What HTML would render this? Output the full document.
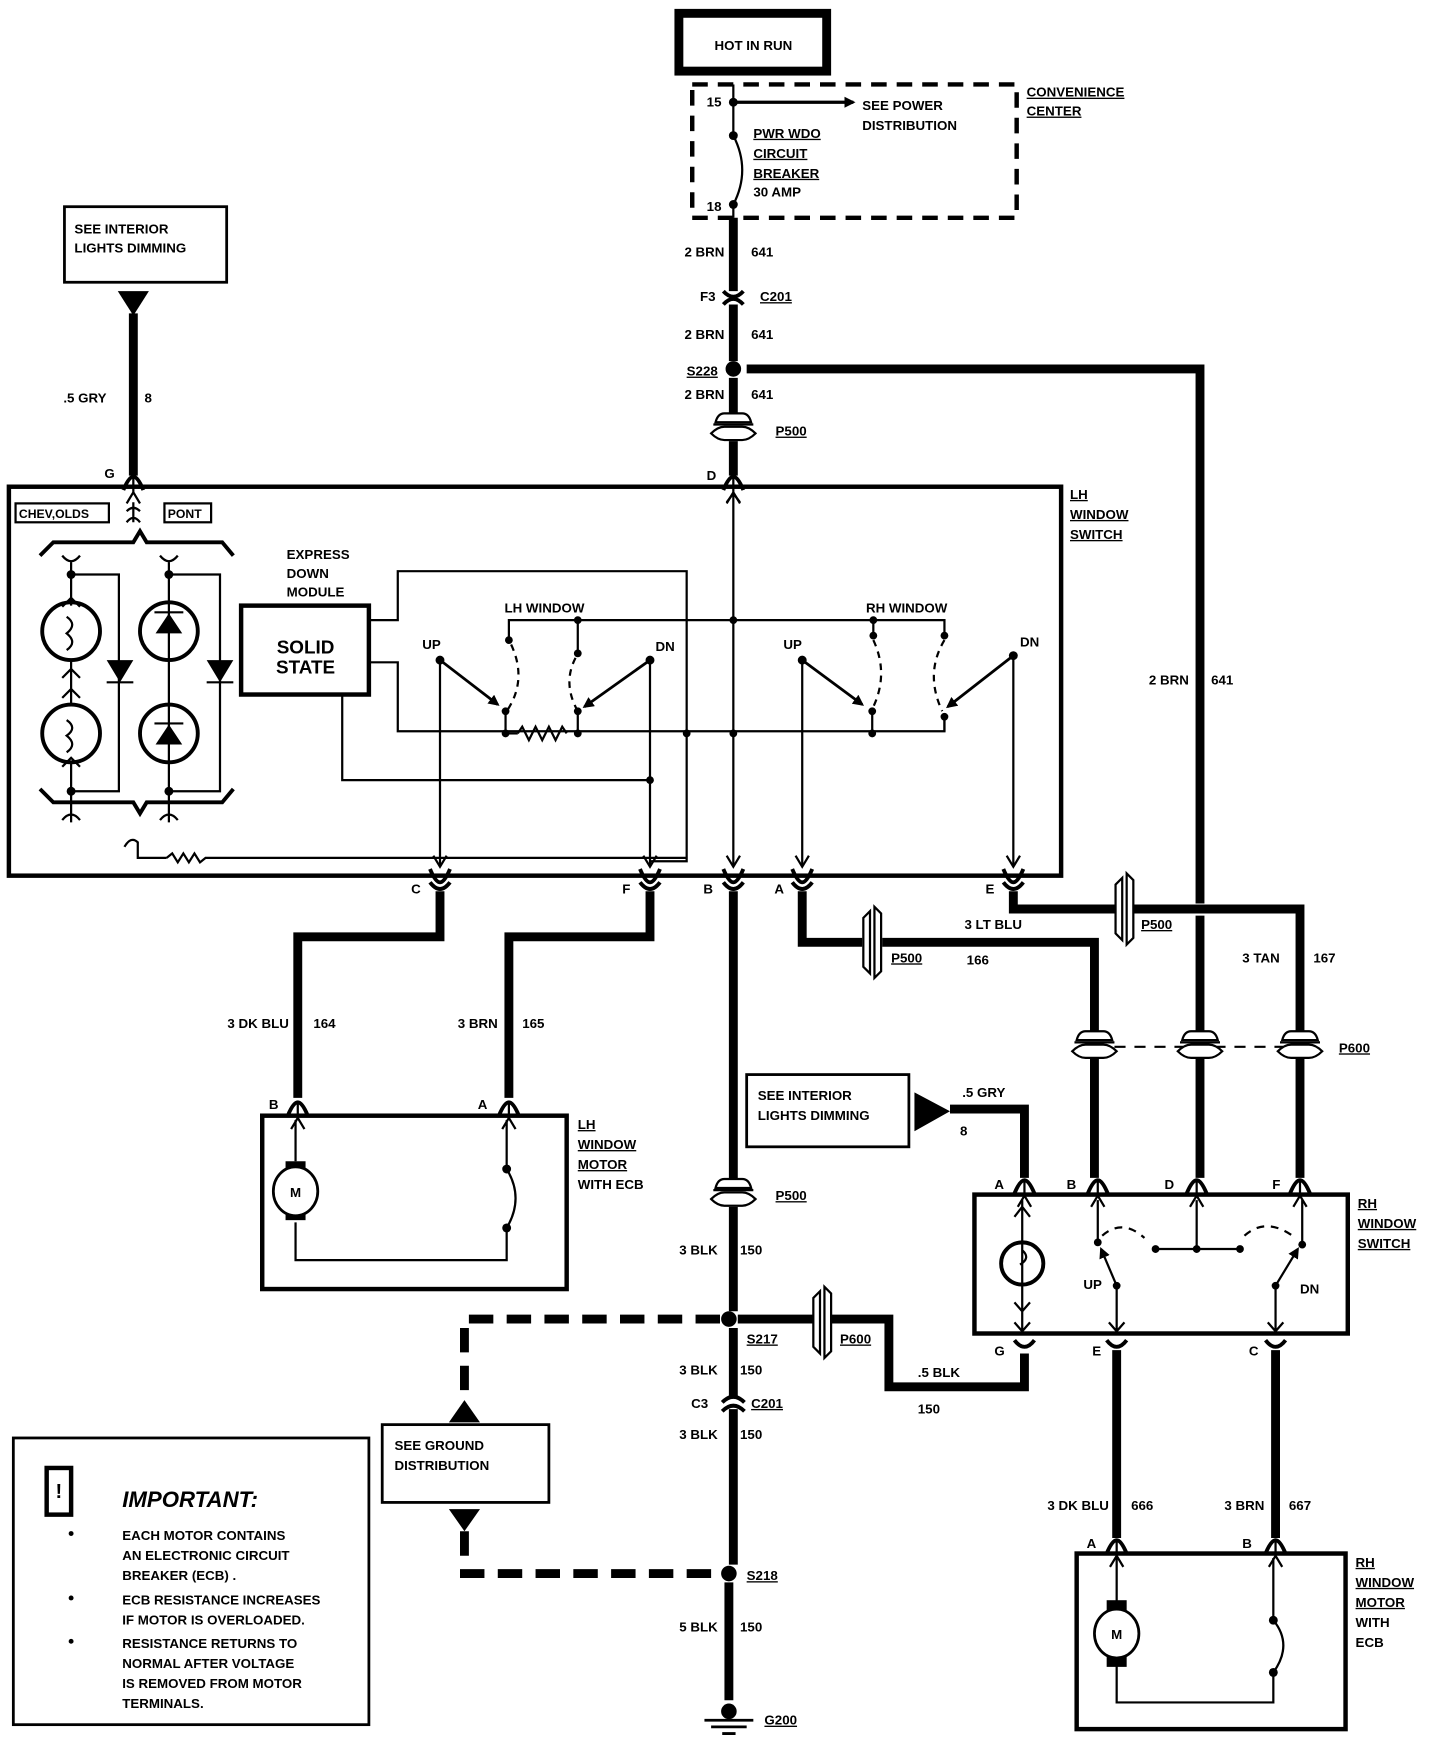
<!DOCTYPE html>
<html><head><meta charset="utf-8"><style>
html,body{margin:0;padding:0;background:#fff;}
svg{display:block;}
text{font-family:"Liberation Sans",sans-serif;font-weight:bold;font-size:12px;fill:#000;}
.u{text-decoration:underline;}
.w{stroke:#000;stroke-width:8;fill:none;}
.t{stroke:#000;stroke-width:2;fill:none;}
.m{stroke:#000;stroke-width:3.5;fill:none;}
.d{stroke:#000;stroke-width:8;fill:none;stroke-dasharray:22 12;}
</style></head><body>
<svg width="1440" height="1738" viewBox="0 0 1296 1564" preserveAspectRatio="none" xmlns="http://www.w3.org/2000/svg">
<defs>
<g id="ct"><path class="m" d="M-9 4 Q-4 -8 0 -8 Q4 -8 9 4"/><path class="t" d="M-6 16 L0 6 L6 16 M0 6 V-8"/></g>
<g id="cb"><path class="m" d="M-9 -4 Q-4 8 0 8 Q4 8 9 -4"/><path class="t" d="M-6 -16 L0 -6 L6 -16"/></g>
<g id="pv"><path d="M-16 -6 Q-14 -14 -8 -14 H8 Q14 -14 16 -6 Z M-20 4 Q-14 -2 -8 -2 H8 Q14 -2 20 4 Q14 10 8 10 H-8 Q-14 10 -20 4 Z" fill="#fff" stroke="#000" stroke-width="2"/><line x1="-18" y1="-4" x2="18" y2="-4" stroke="#000" stroke-width="2"/></g>
<g id="ph"><path d="M-8 -22 L-2 -28 V28 L-8 22 Z M2 -32 L8 -26 V26 L2 32 Z" fill="#fff" stroke="#000" stroke-width="2"/></g>
<marker id="ah" markerWidth="10" markerHeight="10" refX="8" refY="5" orient="auto" markerUnits="userSpaceOnUse"><path d="M0 0 L10 5 L0 10 Z"/></marker>
</defs>

<!-- HOT IN RUN -->
<rect x="611" y="12" width="133" height="52" fill="#fff" stroke="#000" stroke-width="8"/>
<text x="678" y="45" text-anchor="middle">HOT IN RUN</text>
<!-- convenience center -->
<rect x="623" y="76" width="292" height="120" fill="none" stroke="#000" stroke-width="4" stroke-dasharray="14 9"/>
<text x="924" y="87" class="u">CONVENIENCE</text><text x="924" y="104" class="u">CENTER</text>
<line x1="660" y1="76" x2="660" y2="122" class="t"/>
<circle cx="660" cy="92" r="4"/><text x="636" y="96">15</text>
<line x1="660" y1="92" x2="768" y2="92" stroke="#000" stroke-width="3" marker-end="url(#ah)"/>
<text x="776" y="99">SEE  POWER</text><text x="776" y="117">DISTRIBUTION</text>
<circle cx="660" cy="122" r="4"/><circle cx="660" cy="184" r="4"/>
<path d="M660 122 Q676 153 660 184" class="t"/>
<text x="678" y="124" class="u">PWR  WDO</text><text x="678" y="142" class="u">CIRCUIT</text><text x="678" y="160" class="u">BREAKER</text><text x="678" y="177">30  AMP</text>
<text x="636" y="190">18</text>
<!-- main vertical -->
<line x1="660" y1="184" x2="660" y2="196" class="t"/>
<line x1="660" y1="196" x2="660" y2="262" class="w"/>
<path class="m" d="M651 262 Q660 272 669 262 M651 274 Q660 264 669 274"/>
<line x1="660" y1="274" x2="660" y2="325" class="w"/>
<circle cx="660" cy="332" r="7"/>
<line x1="660" y1="340" x2="660" y2="378" class="w"/>
<use href="#pv" x="660" y="386"/>
<line x1="660" y1="397" x2="660" y2="428" class="w"/>
<text x="652" y="231" text-anchor="end">2 BRN</text><text x="676" y="231">641</text>
<text x="630" y="271">F3</text><text x="684" y="271" class="u">C201</text>
<text x="652" y="305" text-anchor="end">2 BRN</text><text x="676" y="305">641</text>
<text x="618" y="338" class="u">S228</text>
<text x="652" y="359" text-anchor="end">2 BRN</text><text x="676" y="359">641</text>
<text x="698" y="392" class="u">P500</text>
<text x="636" y="432">D</text>
<use href="#ct" x="660" y="437"/>
<!-- S228 to right -->
<path d="M672 332 H1080 V813" class="w"/>
<line x1="1080" y1="824" x2="1080" y2="935" class="w"/>
<text x="1070" y="616" text-anchor="end">2 BRN</text><text x="1090" y="616">641</text>

<!-- left see interior -->
<rect x="58" y="186" width="146" height="68" fill="#fff" stroke="#000" stroke-width="2.5"/>
<text x="67" y="210">SEE INTERIOR</text><text x="67" y="227">LIGHTS DIMMING</text>
<path d="M106 262 H134 L120 284 Z"/>
<line x1="120" y1="282" x2="120" y2="428" class="w"/>
<text x="57" y="362">.5  GRY</text><text x="130" y="362">8</text>
<text x="94" y="430">G</text>
<use href="#ct" x="120" y="437"/>

<!-- LH window switch box -->
<rect x="8" y="438" width="947" height="350" fill="none" stroke="#000" stroke-width="4"/>
<text x="963" y="449" class="u">LH</text><text x="963" y="467" class="u">WINDOW</text><text x="963" y="485" class="u">SWITCH</text>
<rect x="14" y="453" width="84" height="17" fill="none" stroke="#000" stroke-width="2"/><text x="17" y="466" style="font-size:11px">CHEV,OLDS</text>
<rect x="148" y="453" width="42" height="17" fill="none" stroke="#000" stroke-width="2"/><text x="151" y="466" style="font-size:11px">PONT</text>
<path class="t" d="M114 470 Q120 462 126 470 M120 452 V470 M114 460 Q120 454 126 460"/>
<path class="m" d="M36 500 L48 488 H120 L126 478 L132 488 H200 L210 500"/>
<path class="m" d="M36 710 L48 722 H120 L126 732 L132 722 H200 L210 710"/>
<!-- lamps -->
<circle cx="64" cy="568" r="26" class="m"/><circle cx="64" cy="660" r="26" class="m"/>
<path class="t" d="M56 500 Q64 510 72 500 M64 505 V545 M56 546 L64 538 L72 546 M64 594 V634 M56 610 L64 602 L72 610 M56 628 L64 620 L72 628 M64 686 V740 M56 690 L64 682 L72 690 M56 738 Q64 728 72 738"/>
<path class="t" d="M60 555 Q70 562 60 570 Q70 578 60 585 M60 648 Q70 655 60 662 Q70 670 60 677"/>
<circle cx="64" cy="517" r="4"/><circle cx="64" cy="712" r="4"/>
<path class="t" d="M64 517 H107 V712 H64"/>
<path d="M96 594 H120 L108 614 Z"/><line x1="96" y1="614" x2="120" y2="614" class="t"/>
<!-- diodes -->
<circle cx="152" cy="568" r="26" class="m"/><circle cx="152" cy="660" r="26" class="m"/>
<path class="t" d="M144 500 Q152 510 160 500 M152 505 V740 M144 738 Q152 728 160 738"/>
<path d="M140 570 H164 L152 552 Z M140 670 H164 L152 652 Z"/>
<line x1="139" y1="551" x2="165" y2="551" class="t"/><line x1="139" y1="651" x2="165" y2="651" class="t"/>
<circle cx="152" cy="517" r="4"/><circle cx="152" cy="712" r="4"/>
<path class="t" d="M152 517 H198 V712 H152"/>
<path d="M186 594 H210 L198 614 Z"/><line x1="186" y1="614" x2="210" y2="614" class="t"/>
<path class="t" d="M112 762 Q118 752 124 758 V772 H150 M150 772 L155 768 L160 776 L165 768 L170 776 L175 768 L180 776 L185 772 H618"/>
<!-- express down -->
<text x="258" y="503">EXPRESS</text><text x="258" y="520">DOWN</text><text x="258" y="537">MODULE</text>
<rect x="217" y="545" width="115" height="80" fill="#fff" stroke="#000" stroke-width="4"/>
<text x="275" y="588" text-anchor="middle" style="font-size:17px">SOLID</text><text x="275" y="606" text-anchor="middle" style="font-size:17px">STATE</text>
<path class="t" d="M333 558 H358 V514 H618 V775 H585"/>
<path class="t" d="M333 596 H358 V658 H850 V645"/>
<path class="t" d="M308 626 V702 H585"/>
<circle cx="585" cy="702" r="3.5"/><circle cx="618" cy="660" r="3.5"/><circle cx="660" cy="660" r="3.5"/>
<text x="490" y="551" text-anchor="middle">LH WINDOW</text>
<text x="816" y="551" text-anchor="middle">RH WINDOW</text>
<path class="t" d="M458 575 V558 H850 V572"/>
<circle cx="520" cy="558" r="3.5"/><circle cx="660" cy="558" r="3.5"/><circle cx="786" cy="558" r="3.5"/>
<line x1="520" y1="558" x2="520" y2="588" class="t"/>
<circle cx="458" cy="576" r="3.5"/><circle cx="520" cy="588" r="3.5"/><circle cx="786" cy="572" r="3.5"/><circle cx="850" cy="572" r="3.5"/>
<path class="t" d="M786 558 V572"/>
<path class="t" stroke-dasharray="6 5" d="M460 580 Q475 612 456 640 M518 592 Q506 615 520 640 M786 576 Q800 606 786 636 M850 576 Q832 606 848 640"/>
<circle cx="455" cy="640" r="3.5"/><circle cx="455" cy="660" r="3.5"/><circle cx="520" cy="640" r="3.5"/><circle cx="520" cy="660" r="3.5"/>
<circle cx="785" cy="640" r="3.5"/><circle cx="785" cy="660" r="3.5"/><circle cx="850" cy="645" r="3.5"/>
<path class="t" d="M455 640 V660 M520 640 V660 M785 640 V660 M850 645 V658"/>
<path class="t" d="M466 660 L470 654 L476 666 L482 654 L488 666 L494 654 L500 666 L506 654 L510 660"/>
<line x1="455" y1="660" x2="466" y2="660" class="t" stroke="#fff"/>
<text x="380" y="584">UP</text><text x="590" y="586">DN</text><text x="705" y="584">UP</text><text x="918" y="582">DN</text>
<circle cx="396" cy="594" r="4"/><circle cx="585" cy="594" r="4"/><circle cx="722" cy="594" r="4"/><circle cx="912" cy="590" r="4"/>
<path d="M396 594 L448 634" stroke="#000" stroke-width="2.5" marker-end="url(#ah)"/>
<path d="M585 594 L526 636" stroke="#000" stroke-width="2.5" marker-end="url(#ah)"/>
<path d="M722 594 L776 634" stroke="#000" stroke-width="2.5" marker-end="url(#ah)"/>
<path d="M912 590 L853 636" stroke="#000" stroke-width="2.5" marker-end="url(#ah)"/>
<path class="t" d="M396 594 V780 M585 594 V780 M722 594 V780 M912 590 V780 M660 444 V780"/>
<path class="t" d="M654 452 L660 444 L666 452"/>
<!-- bottom connectors -->
<use href="#cb" x="396" y="786"/><use href="#cb" x="585" y="786"/><use href="#cb" x="660" y="786"/><use href="#cb" x="722" y="786"/><use href="#cb" x="912" y="786"/>
<path class="m" d="M387 794 Q396 806 405 794 M576 794 Q585 806 594 794 M651 794 Q660 806 669 794 M713 794 Q722 806 731 794 M903 794 Q912 806 921 794"/>
<text x="370" y="804">C</text><text x="560" y="804">F</text><text x="633" y="804">B</text><text x="697" y="804">A</text><text x="887" y="804">E</text>

<!-- wires from LH switch -->
<path class="w" d="M396 802 V843 H268 V988"/>
<path class="w" d="M585 802 V843 H458 V988"/>
<text x="260" y="925" text-anchor="end">3 DK BLU</text><text x="282" y="925">164</text>
<text x="448" y="925" text-anchor="end">3 BRN</text><text x="470" y="925">165</text>
<path class="w" d="M722 802 V848 H776 M794 848 H985 V932"/>
<use href="#ph" x="785" y="848"/>
<text x="868" y="836">3 LT BLU</text><text x="802" y="866" class="u">P500</text><text x="870" y="868">166</text>
<path class="w" d="M912 802 V818 H1004 M1020 818 H1170 V932"/>
<use href="#ph" x="1012" y="818"/>
<text x="1027" y="836" class="u">P500</text><text x="1118" y="866">3 TAN</text><text x="1182" y="866">167</text>
<!-- P600 row -->
<line x1="985" y1="942" x2="1170" y2="942" stroke="#000" stroke-width="2" stroke-dasharray="10 8"/>
<use href="#pv" x="985" y="942"/><use href="#pv" x="1080" y="942"/><use href="#pv" x="1170" y="942"/>
<text x="1205" y="947" class="u">P600</text>
<path class="w" d="M985 953 V1060 M1080 953 V1060 M1170 953 V1060"/>

<!-- LH motor -->
<use href="#ct" x="268" y="1000"/><use href="#ct" x="458" y="1000"/>
<text x="242" y="998">B</text><text x="430" y="998">A</text>
<rect x="236" y="1004" width="274" height="156" fill="none" stroke="#000" stroke-width="4"/>
<text x="520" y="1016" class="u">LH</text><text x="520" y="1034" class="u">WINDOW</text><text x="520" y="1052" class="u">MOTOR</text><text x="520" y="1070">WITH  ECB</text>
<path class="t" d="M266 1008 V1045 M266 1100 V1134 H456 V1105 M456 1008 V1052"/>
<rect x="257" y="1045" width="18" height="10"/><rect x="257" y="1088" width="18" height="10"/>
<ellipse cx="266" cy="1072" rx="20" ry="22" fill="#fff" stroke="#000" stroke-width="2.5"/>
<text x="266" y="1077" text-anchor="middle">M</text>
<circle cx="456" cy="1052" r="4"/><circle cx="456" cy="1105" r="4"/>
<path class="t" d="M456 1052 Q472 1078 456 1105"/>

<!-- center ground wire -->
<line x1="660" y1="802" x2="660" y2="1066" class="w"/>
<use href="#pv" x="660" y="1075"/>
<line x1="660" y1="1086" x2="660" y2="1180" class="w"/>
<text x="698" y="1080" class="u">P500</text>
<text x="646" y="1129" text-anchor="end">3 BLK</text><text x="666" y="1129">150</text>
<circle cx="656" cy="1187" r="7"/>
<line x1="660" y1="1195" x2="660" y2="1258" class="w"/>
<path class="m" d="M650 1262 Q660 1252 670 1262 M650 1270 Q660 1260 670 1270"/>
<line x1="660" y1="1268" x2="660" y2="1408" class="w"/>
<circle cx="656" cy="1416" r="7"/>
<line x1="656" y1="1424" x2="656" y2="1530" class="w"/>
<circle cx="656" cy="1540" r="7"/>
<path d="M634 1548 H678 M640 1554 H672 M650 1560 H662" stroke="#000" stroke-width="2.5"/>
<text x="672" y="1209" class="u">S217</text>
<text x="646" y="1237" text-anchor="end">3 BLK</text><text x="666" y="1237">150</text>
<text x="622" y="1267">C3</text><text x="676" y="1267" class="u">C201</text>
<text x="646" y="1295" text-anchor="end">3 BLK</text><text x="666" y="1295">150</text>
<text x="672" y="1422" class="u">S218</text>
<text x="646" y="1468" text-anchor="end">5 BLK</text><text x="666" y="1468">150</text>
<text x="688" y="1552" class="u">G200</text>
<!-- dashed ground -->
<path class="d" d="M648 1187 H418 V1260"/>
<path d="M404 1280 H432 L418 1260 Z"/>
<rect x="344" y="1282" width="150" height="70" fill="#fff" stroke="#000" stroke-width="2.5"/>
<text x="355" y="1305">SEE GROUND</text><text x="355" y="1323">DISTRIBUTION</text>
<path d="M404 1358 H432 L418 1378 Z"/>
<path class="d" d="M418 1378 V1416 H648"/>
<!-- S217 to P600 to G -->
<path class="w" d="M664 1187 H732 M748 1187 H800 V1248 H922 V1218"/>
<use href="#ph" x="740" y="1190"/>
<text x="756" y="1209" class="u">P600</text><text x="826" y="1239">.5 BLK</text><text x="826" y="1272">150</text>

<!-- second see interior -->
<rect x="672" y="967" width="146" height="65" fill="#fff" stroke="#000" stroke-width="2.5"/>
<text x="682" y="990">SEE INTERIOR</text><text x="682" y="1008">LIGHTS DIMMING</text>
<path d="M823 983 L855 1000 L823 1018 Z"/>
<path class="w" d="M855 998 H922 V1060"/>
<text x="866" y="987">.5 GRY</text><text x="864" y="1022">8</text>

<!-- RH switch -->
<use href="#ct" x="922" y="1070"/><use href="#ct" x="988" y="1070"/><use href="#ct" x="1077" y="1070"/><use href="#ct" x="1170" y="1070"/>
<text x="895" y="1070">A</text><text x="960" y="1070">B</text><text x="1048" y="1070">D</text><text x="1145" y="1070">F</text>
<rect x="877" y="1075" width="336" height="125" fill="none" stroke="#000" stroke-width="4"/>
<text x="1222" y="1087" class="u">RH</text><text x="1222" y="1105" class="u">WINDOW</text><text x="1222" y="1123" class="u">SWITCH</text>
<circle cx="920" cy="1137" r="19" class="m"/>
<path class="t" d="M920 1080 V1200 M913 1095 L920 1086 L927 1095 M913 1172 L920 1180 L927 1172 M913 1190 L920 1198 L927 1190 M920 1125 Q928 1132 918 1138"/>
<path class="t" d="M988 1080 V1118 M1077 1080 V1124 M1172 1080 V1120 M1040 1124 H1116"/>
<circle cx="988" cy="1118" r="3.5"/><circle cx="1040" cy="1124" r="3.5"/><circle cx="1077" cy="1124" r="3.5"/><circle cx="1116" cy="1124" r="3.5"/><circle cx="1172" cy="1120" r="3.5"/>
<path class="t" stroke-dasharray="7 6" d="M992 1112 Q1010 1096 1030 1114 M1120 1112 Q1140 1094 1166 1114"/>
<text x="975" y="1160">UP</text><text x="1170" y="1164">DN</text>
<circle cx="1005" cy="1157" r="3.5"/><circle cx="1148" cy="1157" r="3.5"/>
<path d="M1005 1157 L991 1124" stroke="#000" stroke-width="2" marker-end="url(#ah)"/>
<path d="M1148 1157 L1168 1124" stroke="#000" stroke-width="2" marker-end="url(#ah)"/>
<path class="t" d="M1005 1157 V1198 M1148 1157 V1198 M998 1190 L1005 1198 L1012 1190 M1141 1190 L1148 1198 L1155 1190"/>
<path class="m" d="M913 1206 Q922 1218 931 1206 M996 1206 Q1005 1218 1014 1206 M1139 1206 Q1148 1218 1157 1206"/>
<text x="895" y="1220">G</text><text x="983" y="1220">E</text><text x="1124" y="1220">C</text>
<path class="w" d="M1005 1215 V1384 M1148 1215 V1384"/>
<text x="998" y="1359" text-anchor="end">3 DK BLU</text><text x="1018" y="1359">666</text>
<text x="1138" y="1359" text-anchor="end">3 BRN</text><text x="1160" y="1359">667</text>
<!-- RH motor -->
<use href="#ct" x="1005" y="1394"/><use href="#ct" x="1148" y="1394"/>
<text x="978" y="1393">A</text><text x="1118" y="1393">B</text>
<rect x="969" y="1398" width="242" height="158" fill="none" stroke="#000" stroke-width="4"/>
<text x="1220" y="1410" class="u">RH</text><text x="1220" y="1428" class="u">WINDOW</text><text x="1220" y="1446" class="u">MOTOR</text><text x="1220" y="1464">WITH</text><text x="1220" y="1482">ECB</text>
<path class="t" d="M1005 1402 V1445 M1005 1498 V1532 H1146 V1505 M1146 1402 V1458"/>
<rect x="996" y="1440" width="18" height="10"/><rect x="996" y="1490" width="18" height="10"/>
<ellipse cx="1005" cy="1470" rx="20" ry="22" fill="#fff" stroke="#000" stroke-width="2.5"/>
<text x="1005" y="1475" text-anchor="middle">M</text>
<circle cx="1146" cy="1458" r="4"/><circle cx="1146" cy="1505" r="4"/>
<path class="t" d="M1146 1458 Q1164 1480 1146 1505"/>

<!-- IMPORTANT -->
<rect x="12" y="1294" width="320" height="258" fill="none" stroke="#000" stroke-width="2.5"/>
<rect x="42" y="1321" width="22" height="42" fill="none" stroke="#000" stroke-width="4"/>
<text x="53" y="1348" text-anchor="middle" style="font-size:18px">!</text>
<text x="110" y="1356" style="font-size:20px;font-style:italic">IMPORTANT:</text>
<circle cx="64" cy="1380" r="2.2"/><circle cx="64" cy="1438" r="2.2"/><circle cx="64" cy="1477" r="2.2"/>
<text x="110" y="1386">EACH MOTOR CONTAINS</text>
<text x="110" y="1404">AN ELECTRONIC CIRCUIT</text>
<text x="110" y="1422">BREAKER (ECB) .</text>
<text x="110" y="1444">ECB RESISTANCE INCREASES</text>
<text x="110" y="1462">IF MOTOR IS OVERLOADED.</text>
<text x="110" y="1483">RESISTANCE RETURNS TO</text>
<text x="110" y="1501">NORMAL AFTER VOLTAGE</text>
<text x="110" y="1519">IS REMOVED FROM MOTOR</text>
<text x="110" y="1537">TERMINALS.</text>
</svg>
</body></html>
